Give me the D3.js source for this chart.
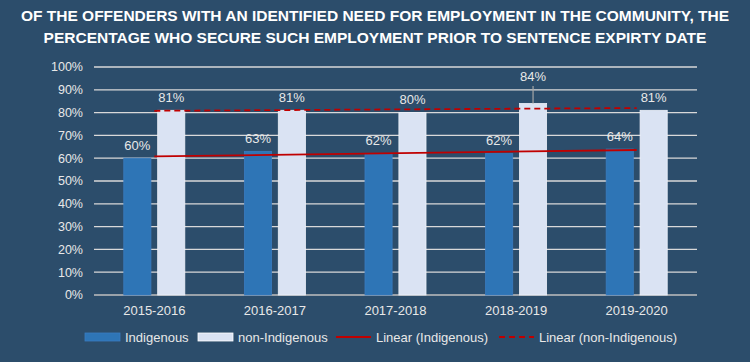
<!DOCTYPE html>
<html>
<head>
<meta charset="utf-8">
<script src="https://cdn.jsdelivr.net/npm/d3@7"></script>
<style>
  html, body { margin: 0; padding: 0; background: #2c4d6b; }
  svg { display: block; font-family: "Liberation Sans", Arial, sans-serif; }
</style>
</head>
<body>
<div id="chart"></div>
<script>
(function(){
  // chart values
  const years = ["2015-2016", "2016-2017", "2017-2018", "2018-2019", "2019-2020"];
  const seriesNames = ["Indigenous", "non-Indigenous"];
  const indigenous = [0.60, 0.63, 0.62, 0.62, 0.64];
  const nonIndigenous = [0.81, 0.81, 0.80, 0.84, 0.81];
  const yTicks = [0, 0.1, 0.2, 0.3, 0.4, 0.5, 0.6, 0.7, 0.8, 0.9, 1.0];
  const titleLines = [
    "OF THE OFFENDERS WITH AN IDENTIFIED NEED FOR EMPLOYMENT IN THE COMMUNITY, THE",
    "PERCENTAGE WHO SECURE SUCH EMPLOYMENT PRIOR TO SENTENCE EXPIRTY DATE"
  ];
  const legendLabels = ["Indigenous", "non-Indigenous", "Linear (Indigenous)", "Linear (non-Indigenous)"];

  const width = 750, height = 362;
  const margin = {top: 67, right: 53, bottom: 67, left: 94};
  const colors = {bg: "#2c4d6b", ind: "#2e75b6", non: "#dae3f3", trend: "#c00000", grid: "#d9d9d9", text: "#e8e8e8"};

  const svg = d3.select("#chart").append("svg")
    .attr("width", width)
    .attr("height", height);

  svg.append("rect").attr("width", width).attr("height", height).attr("fill", colors.bg);

  // title
  svg.append("g").selectAll("text")
    .data(titleLines)
    .enter().append("text")
    .attr("x", width / 2)
    .attr("y", (d, i) => 21 + i * 21.5)
    .attr("text-anchor", "middle")
    .attr("fill", "#ffffff")
    .attr("font-weight", "bold")
    .attr("font-size", "15.5px")
    .text(d => d);

  const x0 = d3.scaleBand()
    .domain(years)
    .range([margin.left, width - margin.right])
    .paddingInner(0.494)
    .paddingOuter(0.247);

  const x1 = d3.scaleBand()
    .domain(seriesNames)
    .range([0, x0.bandwidth()])
    .paddingInner(0.2);

  const y = d3.scaleLinear()
    .domain([0, 1])
    .range([height - margin.bottom, margin.top]);

  // gridlines
  svg.append("g").selectAll("line")
    .data(yTicks)
    .enter().append("line")
    .attr("x1", margin.left)
    .attr("x2", width - margin.right)
    .attr("y1", d => y(d))
    .attr("y2", d => y(d))
    .attr("stroke", d => d === 0 ? "#bfbfbf" : colors.grid)
    .attr("stroke-width", 1.3);

  // y axis labels
  svg.append("g").selectAll("text")
    .data(yTicks)
    .enter().append("text")
    .attr("x", margin.left - 11)
    .attr("y", d => y(d))
    .attr("dy", "0.35em")
    .attr("text-anchor", "end")
    .attr("fill", colors.text)
    .attr("font-size", "12.5px")
    .text(d => d3.format(".0%")(d));

  // x axis labels
  svg.append("g").selectAll("text")
    .data(years)
    .enter().append("text")
    .attr("x", d => x0(d) + x0.bandwidth() / 2)
    .attr("y", height - margin.bottom + 15)
    .attr("dy", "0.35em")
    .attr("text-anchor", "middle")
    .attr("fill", colors.text)
    .attr("font-size", "13px")
    .text(d => d);

  const rows = years.map((yr, i) => ({year: yr, values: [
    {key: "Indigenous", value: indigenous[i]},
    {key: "non-Indigenous", value: nonIndigenous[i]}
  ]}));

  const groups = svg.append("g").selectAll("g")
    .data(rows)
    .enter().append("g")
    .attr("transform", d => `translate(${x0(d.year)},0)`);

  groups.selectAll("rect")
    .data(d => d.values)
    .enter().append("rect")
    .attr("x", d => x1(d.key))
    .attr("y", d => y(d.value))
    .attr("width", x1.bandwidth())
    .attr("height", d => y(0) - y(d.value))
    .attr("fill", d => d.key === "Indigenous" ? colors.ind : colors.non)
    .attr("stroke", d => d.key === "Indigenous" ? "#3a7cc0" : "#eef2fa")
    .attr("stroke-width", 0.8);

  // linear trendlines (least squares over category index)
  function linear(vals) {
    const n = vals.length;
    const xs = vals.map((v, i) => i + 1);
    const mx = d3.mean(xs), my = d3.mean(vals);
    const slope = d3.sum(xs, (xv, i) => (xv - mx) * (vals[i] - my)) / d3.sum(xs, xv => (xv - mx) * (xv - mx));
    const icpt = my - slope * mx;
    return [icpt + slope * 1, icpt + slope * n];
  }
  const cx = d => x0(d) + x0.bandwidth() / 2;
  [[indigenous, null], [nonIndigenous, "6,4"]].forEach(([vals, dash]) => {
    const ends = linear(vals);
    svg.append("line")
      .attr("x1", cx(years[0]))
      .attr("x2", cx(years[years.length - 1]))
      .attr("y1", y(ends[0]))
      .attr("y2", y(ends[1]))
      .attr("stroke", colors.trend)
      .attr("stroke-width", 1.8)
      .attr("stroke-dasharray", dash);
  });

  // data labels; the 2018-2019 non-Indigenous label sits higher with a leader line
  const lift = {"2018-2019|non-Indigenous": 14};
  groups.each(function(row) {
    const g = d3.select(this);
    row.values.forEach(v => {
      const k = row.year + "|" + v.key;
      const up = lift[k] || 0;
      const bx = x1(v.key) + x1.bandwidth() / 2;
      const by = y(v.value) - 8.5 - up;
      if (up) {
        g.append("line")
          .attr("x1", bx).attr("x2", bx)
          .attr("y1", by + 5).attr("y2", y(v.value))
          .attr("stroke", "#a6a6a6")
          .attr("stroke-width", 1.2);
      }
      g.append("text")
        .attr("x", bx)
        .attr("y", by)
        .attr("text-anchor", "middle")
        .attr("fill", colors.text)
        .attr("font-size", "13px")
        .text(d3.format(".0%")(v.value));
    });
  });

  // legend
  const legendY = 337;
  const legendX = [85, 198, 336, 499];
  const leg = svg.append("g").selectAll("g")
    .data(legendLabels)
    .enter().append("g")
    .attr("transform", (d, i) => `translate(${legendX[i]},${legendY})`);

  leg.each(function(d, i) {
    const g = d3.select(this);
    if (i < 2) {
      g.append("rect")
        .attr("x", 0).attr("y", -4)
        .attr("width", 35).attr("height", 8)
        .attr("fill", i === 0 ? colors.ind : colors.non)
        .attr("stroke", i === 0 ? "#3a7cc0" : "#ffffff")
        .attr("stroke-width", 0.8);
    } else {
      g.append("line")
        .attr("x1", 0).attr("x2", 35)
        .attr("y1", 0).attr("y2", 0)
        .attr("stroke", colors.trend)
        .attr("stroke-width", 1.8)
        .attr("stroke-dasharray", i === 3 ? "6,4" : null);
    }
    g.append("text")
      .attr("x", 40)
      .attr("y", 0)
      .attr("dy", "0.35em")
      .attr("fill", colors.text)
      .attr("font-size", "13px")
      .text(d);
  });
})();
</script>
</body>
</html>
